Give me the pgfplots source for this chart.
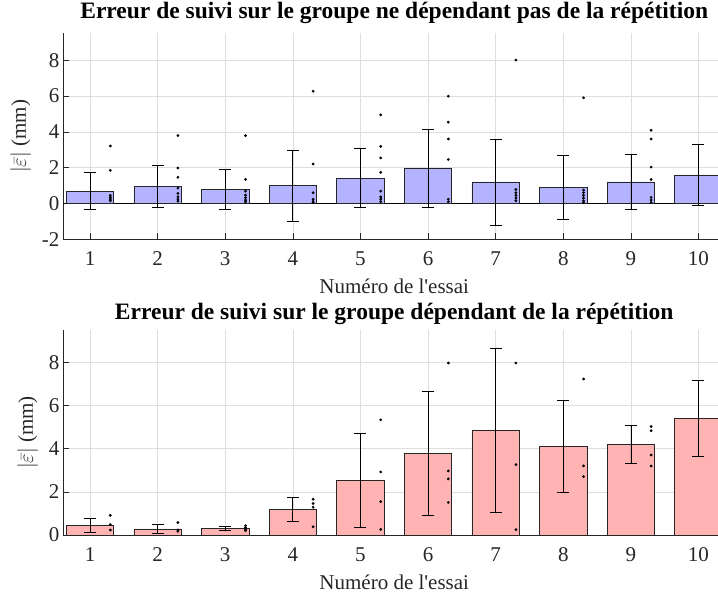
\documentclass[border=0pt]{standalone}
\usepackage{fontspec}
\setmainfont{Liberation Serif}
\usepackage{pgfplots}
\pgfplotsset{compat=1.18}

\definecolor{barblue}{RGB}{179,179,255}
\definecolor{barred}{RGB}{255,179,179}
\definecolor{axgray}{RGB}{38,38,38}

\pgfplotsset{
  essai/.style={
    scale only axis,
    width=662.5pt,
    xmin=0.6, xmax=10.4,
    xtick={1,...,10},
    axis x line*=bottom,
    axis y line*=left,
    axis line style={axgray, line width=0.6pt},
    tick style={axgray, line width=0.6pt},
    tick align=inside,
    major tick length=6pt,
    xmajorgrids, ymajorgrids,
    grid style={black!13, line width=0.6pt},
    ticklabel style={font=\fontsize{21}{24}\selectfont, text=axgray},
    xticklabel style={yshift=-9pt},
    label style={font=\fontsize{21}{24}\selectfont, text=axgray},
    xlabel style={yshift=-6pt},
    ylabel style={yshift=4pt},
    title style={font=\bfseries\fontsize{23.5}{26}\selectfont},
    /pgf/number format/assume math mode=true,
    xlabel={Numéro de l\textquotesingle essai},
    ylabel={$|\bar{\varepsilon}|$ (mm)},
    clip=true,
  },
  moy/.style={
    ybar, bar width=0.7, draw=black!85, line width=0.6pt,
    error bars/y dir=both, error bars/y explicit,
    error bars/error bar style={black, line width=0.7pt},
    error bars/error mark options={black, rotate=90, mark size=6pt, line width=0.7pt},
  },
  pts/.style={only marks, mark=*, mark size=1.2pt, black},
}

\begin{document}
\begin{tikzpicture}
\useasboundingbox (-63pt,-59pt) rectangle (655pt,535pt);

% groupe ne dependant pas de la repetition
\begin{axis}[essai,
  at={(0pt,295.7pt)},
  height=206pt,
  ymin=-2, ymax=9.5,
  ytick={-2,0,...,8},
  title={Erreur de suivi sur le groupe ne dépendant pas de la répétition},
]
\addplot[black, line width=0.6pt, forget plot] coordinates {(0.6,0) (10.4,0)};
\addplot[moy, fill=barblue] coordinates {
(1,0.69) +- (0,1.03)
(2,0.97) +- (0,1.16)
(3,0.80) +- (0,1.12)
(4,1.00) +- (0,1.98)
(5,1.42) +- (0,1.65)
(6,1.98) +- (0,2.18)
(7,1.20) +- (0,2.40)
(8,0.89) +- (0,1.77)
(9,1.20) +- (0,1.55)
(10,1.60) +- (0,1.69)
};
\addplot[pts] coordinates {
(1.3,3.21) (1.3,1.85) (1.3,0.45) (1.3,0.35) (1.3,0.25) (1.3,0.15)
(2.3,3.79) (2.3,1.98) (2.3,1.46) (2.3,0.86) (2.3,0.56) (2.3,0.37) (2.3,0.24) (2.3,0.13)
(3.3,3.79) (3.3,1.34) (3.3,0.69) (3.3,0.47) (3.3,0.32) (3.3,0.19) (3.3,0.09)
(4.3,6.27) (4.3,2.20) (4.3,0.60) (4.3,0.24) (4.3,0.13) (4.3,0.04)
(5.3,4.95) (5.3,3.19) (5.3,2.54) (5.3,1.74) (5.3,0.69) (5.3,0.37) (5.3,0.24) (5.3,0.10)
(6.3,5.99) (6.3,4.54) (6.3,3.60) (6.3,2.46) (6.3,0.24) (6.3,0.10)
(7.3,8.01) (7.3,0.78) (7.3,0.60) (7.3,0.45) (7.3,0.30) (7.3,0.15)
(8.3,5.90) (8.3,0.75) (8.3,0.60) (8.3,0.45) (8.3,0.30) (8.3,0.15) (8.3,0.05)
(9.3,4.09) (9.3,3.60) (9.3,2.03) (9.3,1.34) (9.3,0.34) (9.3,0.19) (9.3,0.06)
};
\end{axis}

% groupe dependant de la repetition
\begin{axis}[essai,
  at={(0pt,0pt)},
  height=205pt,
  ymin=0, ymax=9.5,
  ytick={0,2,...,8},
  title style={yshift=-4pt},
  title={Erreur de suivi sur le groupe dépendant de la répétition},
]
\addplot[moy, fill=barred] coordinates {
(1,0.45) +- (0,0.33)
(2,0.28) +- (0,0.20)
(3,0.32) +- (0,0.10)
(4,1.20) +- (0,0.55)
(5,2.52) +- (0,2.18)
(6,3.77) +- (0,2.87)
(7,4.85) +- (0,3.79)
(8,4.10) +- (0,2.13)
(9,4.19) +- (0,0.88)
(10,5.42) +- (0,1.77)
};
\addplot[pts] coordinates {
(1.3,0.91) (1.3,0.48) (1.3,0.23)
(2.3,0.58) (2.3,0.23) (2.3,0.17)
(3.3,0.43) (3.3,0.34) (3.3,0.26) (3.3,0.20)
(4.3,1.66) (4.3,1.46) (4.3,1.29) (4.3,0.38)
(5.3,5.34) (5.3,2.92) (5.3,1.55) (5.3,0.26)
(6.3,7.97) (6.3,2.97) (6.3,2.60) (6.3,1.51)
(7.3,7.97) (7.3,3.26) (7.3,0.25)
(8.3,7.23) (8.3,3.20) (8.3,2.71)
(9.3,5.03) (9.3,4.83) (9.3,3.71) (9.3,3.20)
};
\end{axis}
\end{tikzpicture}
\end{document}
